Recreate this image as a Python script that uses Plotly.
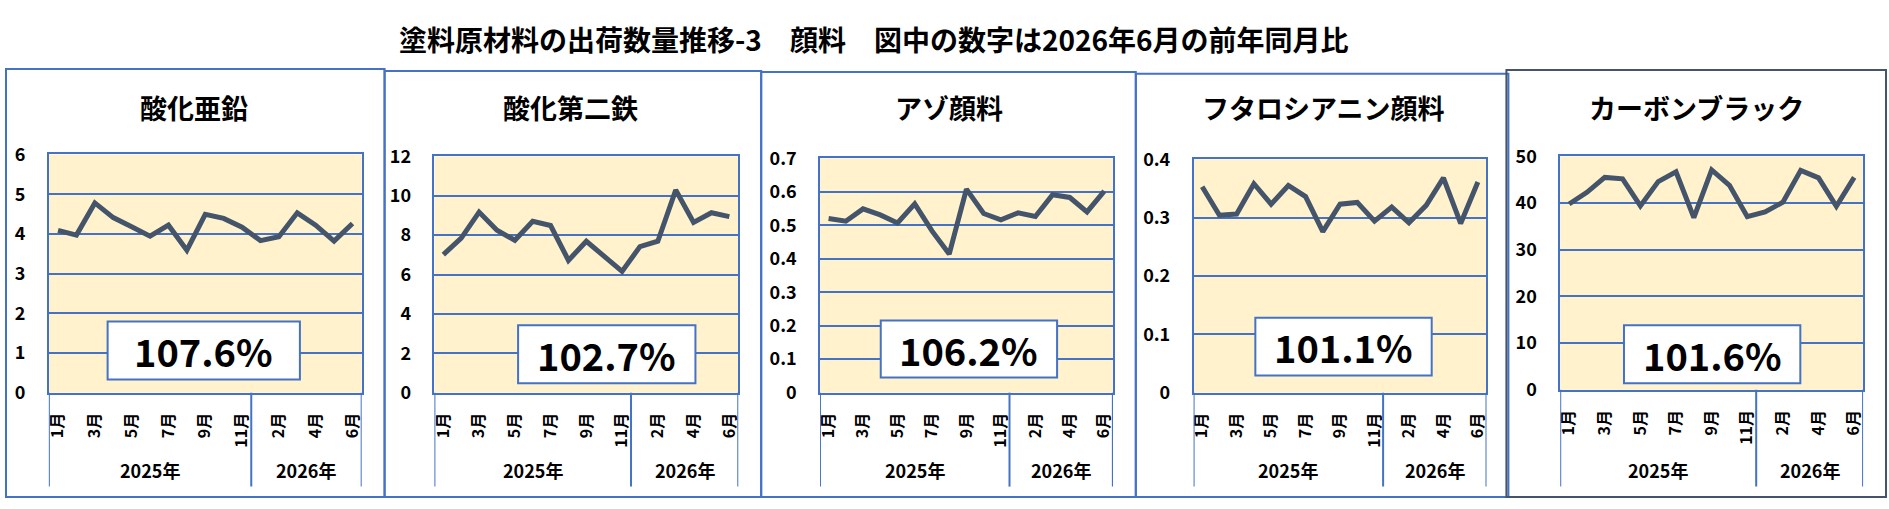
import plotly.graph_objects as go

W, H = 1889, 509

#### data
months_2025 = ["1月", "2月", "3月", "4月", "5月", "6月", "7月", "8月", "9月", "10月", "11月"]
months_2026 = ["1月", "2月", "3月", "4月", "5月", "6月"]
month_labels = months_2025 + months_2026
year_labels = ["2025年", "2026年"]

zinc_oxide = [4.09, 3.97, 4.78, 4.41, 4.18, 3.94, 4.22, 3.59, 4.49, 4.39, 4.17,
              3.83, 3.93, 4.53, 4.22, 3.82, 4.26]
ferric_oxide = [7.01, 7.85, 9.17, 8.25, 7.74, 8.70, 8.49, 6.72, 7.69, 6.96, 6.16,
                7.42, 7.69, 10.29, 8.65, 9.14, 8.94]
azo_pigment = [0.520, 0.512, 0.549, 0.531, 0.507, 0.564, 0.483, 0.414, 0.608, 0.535, 0.516,
               0.537, 0.526, 0.591, 0.583, 0.540, 0.602]
phthalocyanine = [0.353, 0.304, 0.306, 0.358, 0.323, 0.355, 0.336, 0.276, 0.323, 0.326, 0.294,
                  0.318, 0.291, 0.321, 0.368, 0.290, 0.361]
carbon_black = [39.8, 42.3, 45.5, 45.2, 39.4, 44.6, 46.7, 36.9, 47.1, 43.8, 37.1,
                38.1, 40.2, 47.0, 45.4, 39.3, 45.5]

series_list = [zinc_oxide, ferric_oxide, azo_pigment, phthalocyanine, carbon_black]
panel_titles = ["酸化亜鉛", "酸化第二鉄", "アゾ顔料", "フタロシアニン顔料", "カーボンブラック"]
yoy_labels = ["107.6%", "102.7%", "106.2%", "101.1%", "101.6%"]
main_title = "塗料原材料の出荷数量推移-3　顔料　図中の数字は2026年6月の前年同月比"

#### layout settings (pixels)
y_max = [6, 12, 0.7, 0.4, 50]
y_step = [1, 2, 0.1, 0.1, 10]
plot_px = [(44, 358, 147, 398), (431, 736, 149, 398), (818, 1112, 151, 398),
           (1193, 1487, 152, 398), (1561, 1865, 149, 395)]
frame_px = [(1, 381, 57, 508), (381, 759, 59, 508), (759, 1135, 60, 508),
            (1135, 1509, 62, 508), (1507, 1888, 58, 508)]
frame_col = ["#4472c4"] * 4 + ["#44546a"]
title_x = [190, 568, 948, 1323, 1698]
box_px = [(103, 296, 323, 384), (515, 693, 327, 388), (879, 1056, 322, 382),
          (1255, 1432, 319, 380), (1625, 1802, 327, 388)]

BLUE = "#4472c4"
LINE = "#44546a"
FONT = "Noto Sans CJK JP"


def fx(x):
    return x / W


def fy(y):
    return 1 - y / H


def label(x, y, text, size, xref="paper"):
    return dict(x=x, y=y, xref=xref, yref="paper", text=text, showarrow=False,
                xanchor="center", yanchor="middle",
                font=dict(family=FONT, size=size, color="black", weight="bold"))


fig = go.Figure()
shapes = []
annotations = []
n = len(month_labels)
split = len(months_2025) - 0.5

for i, vals in enumerate(series_list):
    sfx = "" if i == 0 else str(i + 1)
    x0, x1, y0, y1 = plot_px[i]

    fig.add_trace(go.Scatter(
        x=list(range(n)), y=vals, mode="lines",
        line=dict(color=LINE, width=5),
        xaxis="x" + sfx, yaxis="y" + sfx, showlegend=False,
        hoverinfo="skip",
    ))

    fig.update_layout({
        "xaxis" + sfx: dict(
            domain=[fx(x0), fx(x1)], anchor="y" + sfx,
            range=[-0.5, n - 0.5],
            tickvals=list(range(0, n, 2)), ticktext=month_labels[::2],
            tickangle=-90, ticklabelstandoff=12,
            tickfont=dict(family=FONT, size=16, color="black", weight="bold"),
            showgrid=False, zeroline=False, showline=True, linecolor=BLUE,
            linewidth=1.5, mirror=True, ticks="", fixedrange=True,
        ),
        "yaxis" + sfx: dict(
            domain=[fy(y1), fy(y0)], anchor="x" + sfx,
            range=[0, y_max[i]], dtick=y_step[i],
            ticklabelstandoff=18,
            tickfont=dict(family=FONT, size=18, color="black", weight="bold"),
            showgrid=True, gridcolor=BLUE, gridwidth=1.5,
            zeroline=False, showline=True, linecolor=BLUE, linewidth=1.5,
            mirror=True, ticks="", fixedrange=True,
        ),
    })

    # frame of the panel
    fx0, fx1, fy0, fy1 = frame_px[i]
    shapes.append(dict(type="rect", xref="paper", yref="paper",
                       x0=fx(fx0), x1=fx(fx1), y0=fy(fy1), y1=fy(fy0),
                       line=dict(color=frame_col[i], width=2), layer="below"))

    # category group lines below the axis
    for xv in [-0.5, split, n - 0.5]:
        shapes.append(dict(type="line", xref="x" + sfx, yref="paper",
                           x0=xv, x1=xv, y0=fy(497), y1=fy(y1),
                           line=dict(color=BLUE, width=2)))

    # year labels
    annotations.append(label((split - 0.5) / 2, fy(480), year_labels[0], 18, "x" + sfx))
    annotations.append(label((split + n - 0.5) / 2, fy(480), year_labels[1], 18, "x" + sfx))

    # panel title
    annotations.append(label(fx(title_x[i]), fy(97), panel_titles[i], 27))

    # year-over-year box
    bx0, bx1, by0, by1 = box_px[i]
    shapes.append(dict(type="rect", xref="paper", yref="paper",
                       x0=fx(bx0), x1=fx(bx1), y0=fy(by1), y1=fy(by0),
                       fillcolor="white", line=dict(color=BLUE, width=2)))
    annotations.append(label(fx((bx0 + bx1) / 2), fy((by0 + by1) / 2), yoy_labels[i], 38))

annotations.append(label(fx(872), fy(25), main_title, 28))

fig.update_layout(
    width=W, height=H,
    margin=dict(l=0, r=0, t=0, b=0),
    paper_bgcolor="white",
    plot_bgcolor="#fff2cc",
    shapes=shapes,
    annotations=annotations,
    showlegend=False,
)

# drop the default page margin so the figure sits at the window corner
fig.write_html(
    "out.html",
    config={"displayModeBar": False},
    post_script="document.body.style.margin='0';"
                "document.documentElement.style.overflow='hidden';",
)
